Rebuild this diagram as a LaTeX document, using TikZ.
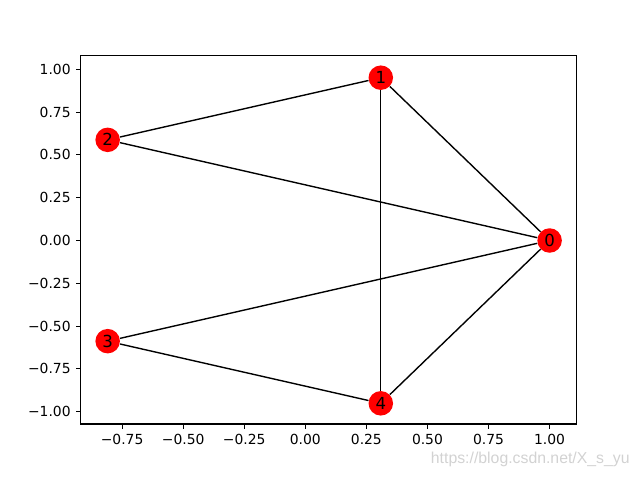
\documentclass[tikz,border=0pt]{standalone}
\usepackage{fontspec}
\setmainfont{DejaVu Sans}
\newfontfamily\wmfont{Liberation Sans}
\usetikzlibrary{positioning}
\tikzset{vert/.style={circle,fill=red,inner sep=0pt,minimum size=4.9mm,font=\fontsize{9.45pt}{11pt}\selectfont},
 edge/.style={line width=0.79pt,black},
 frame/.style={line width=0.63pt},
 tick/.style={line width=0.63pt},
 lab/.style={font=\fontsize{7.9pt}{9pt}\selectfont,inner sep=0pt}}
\begin{document}
\begin{tikzpicture}[x=4.886cm,y=3.424cm]
\useasboundingbox (-1.2497,-1.3756) rectangle (1.3700,1.4048);
% axes
\draw[frame] (-0.919,-1.072) rectangle (1.111,1.078);
\foreach \v/\t [count=\i] in {-0.75/\char"2212 0.75,-0.50/\char"2212 0.50,-0.25/\char"2212 0.25,0.00/0.00,0.25/0.25,0.50/0.50,0.75/0.75,1.00/1.00}{
 \draw[tick] (\v,-1.072)--++(0,-0.098cm);
 \node[lab,anchor=north](xt\i) at ([yshift=-0.196cm]\v,-1.072){\t};}
\foreach \v/\t [count=\i] in {-1.00/\char"2212 1.00,-0.75/\char"2212 0.75,-0.50/\char"2212 0.50,-0.25/\char"2212 0.25,0.00/0.00,0.25/0.25,0.50/0.50,0.75/0.75,1.00/1.00}{
 \draw[tick] (-0.919,\v)--++(-0.098cm,0);
 \node[lab,anchor=east](yt\i) at ([xshift=-0.196cm]-0.919,\v){\t};}
% graph
\node[vert](n0) at (1,0){0};
\node[vert](n1) at (0.309,0.951){1};
\node[vert](n2) at (-0.809,0.588){2};
\node[vert](n3) at (-0.809,-0.588){3};
\node[vert](n4) at (0.309,-0.951){4};
\foreach \a/\b in {n0/n1,n0/n2,n0/n3,n0/n4,n1/n2,n1/n4,n3/n4}
 \draw[edge](\a)--(\b);
\node[anchor=east,inner sep=0pt,text=gray!35,font=\wmfont\fontsize{9pt}{10pt}\selectfont](wm) at (1.329,-1.280){https://blog.csdn.net/X\_s\_yu};
\end{tikzpicture}
\end{document}
